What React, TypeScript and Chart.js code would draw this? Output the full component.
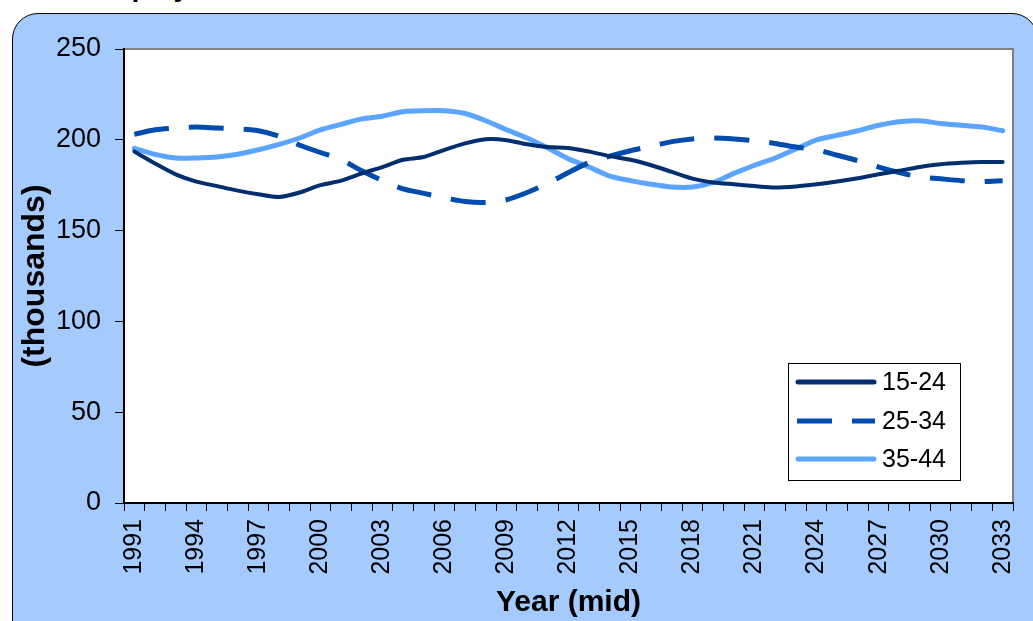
import React, { useEffect, useRef } from "react";
import { Chart, registerables } from "chart.js";

Chart.register(...registerables);

const FONT = "Arial, 'Liberation Sans', Helvetica, sans-serif";

const titleText = "Employment";
const xTitle = "Year (mid)";
const yTitle = "(thousands)";

const years = [
  "1991", "1992", "1993", "1994", "1995", "1996", "1997", "1998", "1999", "2000",
  "2001", "2002", "2003", "2004", "2005", "2006", "2007", "2008", "2009", "2010",
  "2011", "2012", "2013", "2014", "2015", "2016", "2017", "2018", "2019", "2020",
  "2021", "2022", "2023", "2024", "2025", "2026", "2027", "2028", "2029", "2030",
  "2031", "2032", "2033",
];

const seriesLabels = ["15-24", "25-34", "35-44"];

const age1524 = [
  193.5, 187, 181, 177, 174.5, 172, 170, 168.5, 171, 175,
  177.5, 181.5, 185, 189, 190.5, 194.5, 198, 200.3, 199.8, 197.5,
  196, 195.5, 193.5, 191, 189, 186, 182.3, 178.6, 176.5, 175.5,
  174.5, 173.7, 174.3, 175.5, 177, 178.8, 181, 183, 185, 186.5,
  187.3, 187.8, 187.8,
];

const age2534 = [
  203, 205.5, 206.5, 207, 206.5, 206, 205, 202, 197, 193,
  189, 183, 177.5, 173, 170.5, 168, 166, 165.5, 167, 171,
  176, 182, 187.5, 191, 194, 196.5, 199, 200.5, 201, 200.5,
  199.5, 198, 196, 194.5, 191.5, 188.5, 185, 182, 179.5, 178.5,
  177.5, 177, 177.5,
];

const age3544 = [
  195.3, 192, 190, 190, 190.5, 192, 194.5, 197.5, 201, 205.5,
  208.5, 211.5, 213, 215.5, 216, 216, 214.5, 210.5, 205.5, 201,
  195.5, 189.5, 185, 180, 177.5, 175.5, 174, 174, 176.5, 181.5,
  186, 190, 195, 200, 202.5, 205, 208, 210, 210.5, 209,
  208, 207, 205,
];

const yMin = 0;
const yMax = 250;
const yStep = 50;

const framePlugin = {
  id: "frameAndLegend",
  beforeDraw(chart: any) {
    const { ctx, chartArea: a } = chart;
    ctx.save();
    ctx.fillStyle = "#ffffff";
    ctx.fillRect(a.left, a.top, a.right - a.left, a.bottom - a.top);
    ctx.restore();
  },
  afterDraw(chart: any) {
    const { ctx, chartArea: a } = chart;
    ctx.save();
    ctx.strokeStyle = "#808080";
    ctx.lineWidth = 2;
    ctx.beginPath();
    ctx.moveTo(a.left + 1, a.top);
    ctx.lineTo(a.right, a.top);
    ctx.lineTo(a.right, a.bottom - 1);
    ctx.stroke();

    const w = 172;
    const h = 117;
    const x = Math.round(a.right - 53 - w);
    const y = Math.round(a.bottom - 23 - h);
    ctx.fillStyle = "#ffffff";
    ctx.fillRect(x, y, w, h);
    ctx.strokeStyle = "#000000";
    ctx.lineWidth = 1;
    ctx.strokeRect(x + 0.5, y + 0.5, w, h);
    const rows = [19, 58, 96];
    chart.data.datasets.forEach((ds: any, i: number) => {
      const ly = y + rows[i];
      ctx.beginPath();
      ctx.strokeStyle = ds.borderColor;
      ctx.lineWidth = 5;
      const dashed = ds.borderDash && ds.borderDash.length > 0;
      ctx.lineCap = dashed ? "butt" : "round";
      ctx.setLineDash(dashed ? ds.borderDash : []);
      ctx.moveTo(dashed ? x + 9 : x + 10, ly);
      ctx.lineTo(dashed ? x + 87 : x + 86, ly);
      ctx.stroke();
      ctx.setLineDash([]);
      ctx.fillStyle = "#000000";
      ctx.font = `25px ${FONT}`;
      ctx.textBaseline = "middle";
      ctx.textAlign = "left";
      ctx.fillText(ds.label, x + 94, ly + 1);
    });
    ctx.restore();
  },
};

export default function App() {
  const canvasRef = useRef<HTMLCanvasElement | null>(null);

  useEffect(() => {
    const canvas = canvasRef.current;
    if (!canvas) return;
    const chart = new Chart(canvas, {
      type: "line",
      data: {
        labels: years,
        datasets: [
          {
            label: seriesLabels[0],
            data: age1524,
            borderColor: "#002E6E",
            borderWidth: 4,
            borderCapStyle: "round",
            borderJoinStyle: "round",
            fill: false,
          },
          {
            label: seriesLabels[1],
            data: age2534,
            borderColor: "#004CAE",
            borderWidth: 5,
            borderDash: [35, 20],
            borderCapStyle: "butt",
            fill: false,
          },
          {
            label: seriesLabels[2],
            data: age3544,
            borderColor: "#5BA4FF",
            borderWidth: 5,
            borderCapStyle: "round",
            borderJoinStyle: "round",
            fill: false,
          },
        ],
      },
      options: {
        responsive: false,
        animation: false,
        layout: { padding: { left: 12, top: 49, right: 20, bottom: 0 } },
        elements: { point: { radius: 0 }, line: { tension: 0.25 } },
        plugins: {
          legend: { display: false },
          tooltip: { enabled: false },
          title: { display: false },
        },
        scales: {
          x: {
            type: "category",
            offset: true,
            grid: {
              display: true,
              offset: true,
              drawOnChartArea: false,
              drawTicks: true,
              tickLength: 8,
              color: "#000000",
              lineWidth: 1,
            },
            border: { display: true, color: "#000000", width: 2 },
            ticks: {
              autoSkip: false,
              minRotation: 90,
              maxRotation: 90,
              padding: 8,
              color: "#000000",
              font: { family: FONT, size: 25 },
              callback: (_v: any, i: number) => (i % 3 === 0 ? years[i] : ""),
            },
            title: {
              display: true,
              text: xTitle,
              color: "#000000",
              font: { family: FONT, size: 30, weight: "bold" },
              padding: { top: 2, bottom: 0 },
            },
            afterFit: (s: any) => {
              s.height = 118;
              s.paddingLeft = 0;
              s.paddingRight = 0;
            },
          },
          y: {
            min: yMin,
            max: yMax,
            ticks: {
              stepSize: yStep,
              padding: 14,
              color: "#000000",
              font: { family: FONT, size: 27 },
            },
            grid: {
              drawOnChartArea: false,
              drawTicks: true,
              tickLength: 9,
              color: "#000000",
            },
            border: { display: true, color: "#000000", width: 2 },
            title: {
              display: true,
              text: yTitle,
              color: "#000000",
              font: { family: FONT, size: 32, weight: "bold" },
              padding: { top: 4, bottom: 0 },
            },
            afterFit: (s: any) => {
              s.width = 112;
              s.paddingTop = 0;
              s.paddingBottom = 0;
            },
          },
        },
      },
      plugins: [framePlugin],
    } as any);
    return () => chart.destroy();
  }, []);

  return (
    <div
      style={{
        position: "fixed",
        left: 0,
        top: 0,
        width: 1033,
        height: 621,
        overflow: "hidden",
        background: "#ffffff",
      }}
    >
      <div
        style={{
          position: "absolute",
          left: 88,
          top: -27,
          font: `bold 28px ${FONT}`,
          lineHeight: "28px",
          color: "#000",
          whiteSpace: "nowrap",
        }}
      >
        {titleText}
      </div>
      <div
        style={{
          position: "absolute",
          left: 12,
          top: 13,
          width: 1026,
          height: 640,
          boxSizing: "border-box",
          border: "1px solid #000",
          borderRadius: 26,
          background: "#A4CAFE",
        }}
      />
      <canvas
        ref={canvasRef}
        width={1033}
        height={621}
        style={{ position: "absolute", left: 0, top: 0, width: 1033, height: 621 }}
      />
    </div>
  );
}
